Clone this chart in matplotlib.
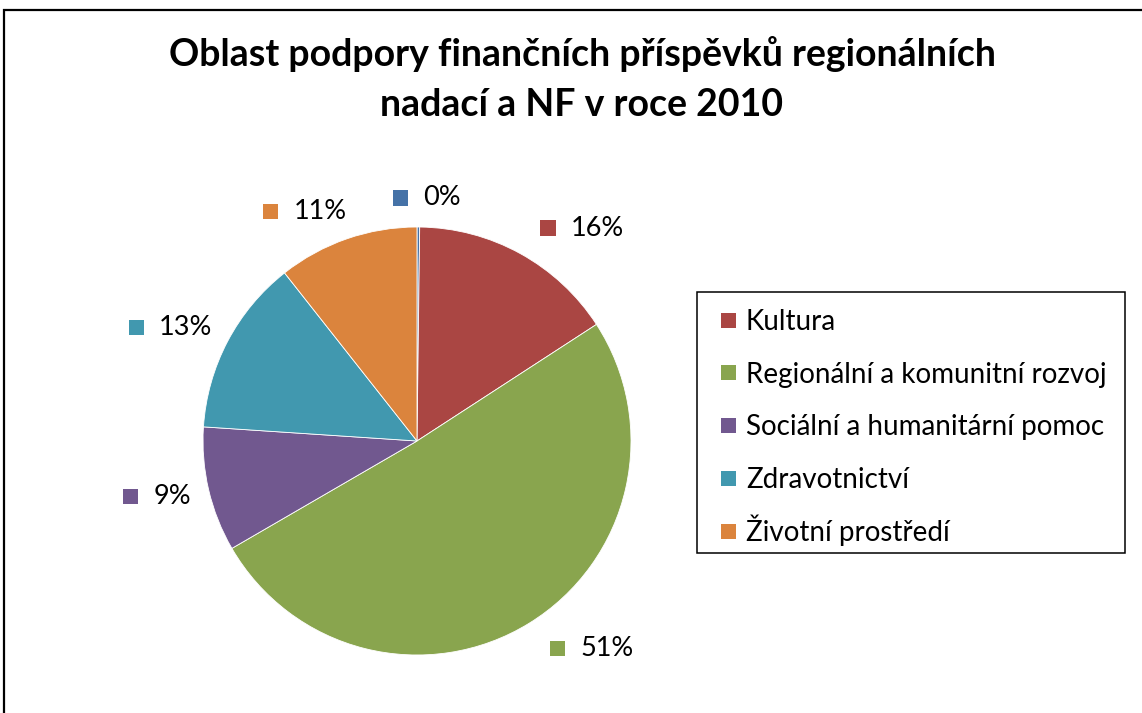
import numpy as np
import matplotlib
matplotlib.use('Agg')
import matplotlib.pyplot as plt
from matplotlib.offsetbox import AnnotationBbox, HPacker, DrawingArea, TextArea
from matplotlib.patches import Rectangle

categories = ["", "Kultura", "Regionální a komunitní rozvoj", "Sociální a humanitární pomoc",
              "Zdravotnictví", "Životní prostředí"]
values = [0.2, 15.6, 50.7, 9.4, 13.3, 10.6]
colors = ["#4572A7", "#AA4643", "#89A54E", "#71588F", "#4198AF", "#DB843D"]
title = "Oblast podpory finančních příspěvků regionálních\nnadací a NF v roce 2010"

W, H = 1142, 713
font = 'Lato'
fig = plt.figure(figsize=(W / 100, H / 100), dpi=100)


def fx_(px):
    return px / W


def fy_(py):
    return 1 - py / H


# outer chart frame (right/bottom edges lie outside the image)
fig.patches.append(Rectangle((fx_(4), -0.1), 1.2, fy_(10) + 0.1, transform=fig.transFigure,
                             fill=False, ec='black', lw=1.6))

cx, cy, R = 417, 441, 214
half = 1.5
ax = fig.add_axes([(cx - half * R) / W, (H - cy - half * R) / H, 2 * half * R / W, 2 * half * R / H])
wedges, _ = ax.pie(values, colors=colors, startangle=90, counterclock=False, radius=1,
                   wedgeprops=dict(edgecolor='white', linewidth=0.6))
ax.set_xlim(-half, half)
ax.set_ylim(-half, half)
ax.axis('off')

total = sum(values)
for w, v, c in zip(wedges, values, colors):
    ang = np.deg2rad((w.theta1 + w.theta2) / 2)
    dx, dy = np.cos(ang), np.sin(ang)
    px, py = 1.12 * dx, 1.136 * dy
    fx = 0.5 - 0.5 * np.clip(dx * 3, -1, 1)
    da = DrawingArea(11, 11)
    da.add_artist(Rectangle((0, 0), 11, 11, fc=c, ec='none'))
    ta = TextArea(f"{v / total * 100:.0f}%", textprops=dict(fontsize=19.5, family=font))
    box = HPacker(children=[da, ta], align='center', pad=0, sep=11)
    ab = AnnotationBbox(box, (px, py), xybox=(5.5, 0), boxcoords='offset points',
                        box_alignment=(fx, 0.5), frameon=False, pad=0,
                        xycoords='data', annotation_clip=False)
    ax.add_artist(ab)

fig.text(582 / W, 1 - 79 / H, title, ha='center', va='center', fontsize=27, fontweight='bold',
         family=font, linespacing=1.55)

# legend box
lx0, ly0, lx1, ly1 = 697, 292, 1125, 553
fig.patches.append(Rectangle((fx_(lx0), fy_(ly1)), (lx1 - lx0) / W, (ly1 - ly0) / H,
                             transform=fig.transFigure, fill=False, ec='black', lw=1.1))
row0, pitch, msz = 320, 52.75, 15
for i, (name, col) in enumerate(zip(categories[1:], colors[1:])):
    ry = row0 + pitch * i
    fig.patches.append(Rectangle((fx_(721), fy_(ry + msz / 2)), msz / W, msz / H,
                                 transform=fig.transFigure, fc=col, ec='none'))
    fig.text(fx_(746), fy_(ry + 10), name, ha='left', va='baseline', fontsize=20, family=font)

fig.savefig('out.png', dpi=100)
